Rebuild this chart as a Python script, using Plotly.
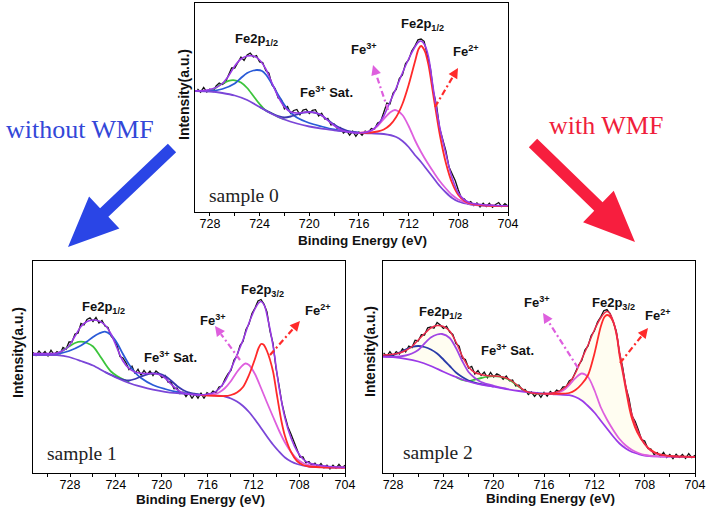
import plotly.graph_objects as go

W, H = 709, 515

# ---------------- values (intensity, a.u.) ----------------
tick_vals = [728, 724, 720, 716, 712, 708, 704]

# ----- sample 0 -----
s0_bg_e = [729.2, 728, 727, 726, 725, 724, 723, 722, 721, 720, 719, 718, 717, 716, 715, 714, 713, 712.5, 712, 711.5, 711, 710.5, 710, 709.5, 709, 708.5, 708, 707, 706, 705, 704]
s0_bg_y = [121, 120.5, 119, 116.5, 112, 105, 98, 92.5, 88.5, 85.5, 83.3, 81.7, 80.3, 79.2, 78.6, 78, 75, 71, 65, 57, 50, 42, 34, 26, 19.5, 14, 10.5, 7.5, 6.5, 6.2, 6]
s0_blue_e = [729.2, 728, 727, 726, 725.5, 725, 724.5, 724.2, 723.8, 723.5, 723, 722.5, 722, 721.5, 721, 720, 719, 718, 717, 716]
s0_blue_y = [121, 121, 123, 128.5, 134, 139, 141.5, 142, 141, 137.5, 128, 117, 107, 99.5, 94.5, 89, 85.5, 82.5, 80.6, 79.3]
s0_green_e = [729.2, 728, 727.5, 727, 726.5, 726, 725.5, 725, 724.5, 724, 723.5, 723, 722.5, 722]
s0_green_y = [121, 121.5, 124.5, 128.5, 131.2, 131.7, 129.5, 124, 116, 108, 101.5, 98.5, 95, 92.6]
s0_sat_e = [724, 723, 722.5, 722, 721.5, 721, 720.5, 720, 719.5, 719, 718.5, 718, 717.5, 717, 716.5, 716]
s0_sat_y = [105, 98.5, 96, 94.5, 95.5, 97.5, 99.3, 100, 99.2, 96.5, 92, 87.5, 84, 81.5, 80, 79.2]
s0_fe3_e = [716, 715.5, 715, 714.5, 714, 713.5, 713.1, 712.5, 712, 711.5, 711, 710.5, 710, 709.5, 709, 708.5, 708, 707, 706, 705, 704]
s0_fe3_y = [79.2, 79.8, 81.5, 86, 93, 99.5, 102, 97, 86, 72, 60, 49.5, 40, 31, 23.5, 17, 12.5, 8, 6.6, 6.2, 6]
s0_fe2_e = [716, 715, 714.5, 714, 713.5, 713, 712.5, 712, 711.5, 711.2, 711, 710.7, 710.4, 710, 709.5, 709, 708.5, 708, 707.5, 707, 706, 705, 704]
s0_fe2_y = [79.2, 79.5, 80.5, 82.5, 87, 95, 108, 127, 150, 163, 166, 161, 147, 116, 78, 49, 29, 17, 11, 8.3, 6.6, 6.2, 6]
s0_env_e = [729.2, 728.5, 728, 727.5, 727, 726.5, 726, 725.5, 725, 724.5, 724, 723.5, 723, 722.5, 722, 721.5, 721, 720.5, 720, 719.5, 719, 718.5, 718, 717.5, 717, 716.5, 716, 715.5, 715, 714.5, 714, 713.5, 713, 712.5, 712, 711.5, 711.2, 711, 710.7, 710.4, 710, 709.5, 709, 708.5, 708, 707.5, 707, 706, 705, 704]
s0_env_y = [121, 121.5, 122.5, 124.5, 128.5, 136, 146, 153, 156, 156, 152, 143, 129, 115, 105, 100, 99, 99.5, 100, 99.3, 96.7, 91.5, 86.5, 82.5, 80.3, 79.3, 79, 79.5, 81.5, 87, 96, 110, 124, 139, 153, 165, 170, 171, 167, 155, 122, 85, 58, 34, 19, 12, 9, 7.2, 6.5, 6.3]
s0_data = [123.1, 119.8, 124.5, 120, 123, 120.5, 126, 129, 127.5, 129.7,
           137, 144, 144, 149.5, 155, 151.5, 157, 159, 155, 156.5,
           150, 149.5, 141.5, 139, 127, 123.5, 114, 112.5, 103, 105.5,
           98.5, 101.5, 102.5, 97.2, 102, 102.8, 98.5, 101.6, 102.3, 96,
           98.7, 93, 93.5, 87, 88, 83.5, 84.5, 78.9, 81.3, 76.8,
           80.8, 75.6, 80, 76.7, 81, 79.5, 83.5, 82.7, 89, 90.5,
           99, 109, 108, 119, 122.5, 133.5, 137, 148.5, 152, 161,
           166, 172.2, 173, 170.7, 157, 144, 120, 106.5, 83.5, 73.5,
           61, 45, 38, 31.5, 22, 14, 13, 8.5, 10.5, 6.5,
           9.1, 5.1, 8.7, 5.5, 8.8, 4.7, 7.5, 9.5, 5.4, 8.3,
           5.8]
s0_data_e = [729 - 0.25 * i for i in range(len(s0_data))]

# ----- sample 1 -----
s1_bg_e = [731.23, 730.18, 729.13, 728.09, 727.04, 725.99, 724.95, 723.90, 722.85, 721.80, 720.76, 719.71, 718.66, 717.62, 716.57, 715.52, 714.47, 713.95, 713.43, 712.90, 712.38, 711.86, 711.33, 710.81, 710.29, 709.76, 709.24, 708.71, 708.19, 707.14, 706.10, 705.05, 704.0]
s1_bg_y = [118, 118, 117.8, 116, 112, 107.5, 101, 95, 90, 86.3, 83.3, 81.2, 79.8, 78.8, 78, 77.6, 76.5, 74.5, 71.5, 67, 61, 53.5, 45, 36.5, 28.5, 21.5, 15.5, 11.5, 9, 6.5, 5.8, 5.5, 5.3]
s1_blue_e = [731.23, 729.13, 728.09, 727.04, 726.52, 725.99, 725.47, 724.95, 724.42, 723.90, 723.38, 722.85, 722.33, 721.80, 720.76, 719.71, 718.66, 717.62, 716.57]
s1_blue_y = [118, 119, 122, 127.5, 131.5, 136, 139.5, 141.3, 138, 130, 119, 108.5, 100.5, 95, 88, 84, 81, 79.3, 78.2]
s1_green_e = [731.23, 729.13, 728.61, 728.09, 727.56, 727.04, 726.52, 725.99, 725.47, 724.95, 724.42, 723.90, 723.38, 722.85]
s1_green_y = [118, 119, 122.5, 126.5, 130, 131.3, 130, 126.5, 118.5, 109.5, 101.5, 97, 93.7, 91]
s1_sat_e = [724.95, 723.90, 723.38, 722.85, 722.33, 721.80, 721.28, 720.76, 720.23, 719.71, 719.19, 718.66, 718.14, 717.62, 717.09, 716.57]
s1_sat_y = [101, 95.5, 93.5, 92.5, 94, 96.5, 98.6, 99.6, 99.3, 97, 92.5, 87, 83, 80.3, 79, 78.2]
s1_fe3_e = [716.57, 715.52, 715.00, 714.47, 713.95, 713.43, 712.90, 712.69, 712.38, 711.86, 711.33, 710.81, 710.29, 709.76, 709.24, 708.71, 708.19, 707.67, 707.14, 706.10, 705.05, 704.0]
s1_fe3_y = [78, 78.5, 80.5, 85, 92, 101, 108, 109.5, 108, 99, 85, 70.5, 56.5, 42.5, 30.5, 21, 14, 10, 7.8, 6.2, 5.6, 5.3]
s1_fe2_e = [716.57, 714.47, 713.95, 713.43, 712.90, 712.38, 711.86, 711.54, 711.33, 711.12, 710.81, 710.29, 709.97, 709.55, 709.24, 708.71, 708.19, 707.67, 707.14, 706.10, 705.05, 704.0]
s1_fe2_y = [78, 77, 78, 80.5, 86, 98, 114, 125, 129, 128.5, 122, 102, 80, 52, 37, 21, 12, 8, 6.5, 5.7, 5.4, 5.3]
s1_env_e = [731.23, 730.18, 729.13, 728.61, 728.09, 727.56, 727.04, 726.52, 725.99, 725.47, 724.95, 724.42, 723.90, 723.38, 722.85, 722.33, 721.80, 721.28, 720.76, 720.23, 719.71, 719.19, 718.66, 718.14, 717.62, 717.09, 716.57, 716.04, 715.52, 715.00, 714.47, 713.95, 713.43, 712.90, 712.38, 711.86, 711.54, 711.33, 711.02, 710.81, 710.29, 709.76, 709.24, 708.71, 708.19, 707.67, 707.14, 706.10, 705.05, 704.0]
s1_env_y = [119.5, 119.5, 120, 122.5, 127, 137, 146.5, 151.5, 153, 152, 148, 139, 125, 112, 104.5, 101, 99.7, 99.5, 99.5, 98.5, 95, 89, 83.5, 80, 78.8, 78.3, 78.2, 78.8, 80, 84, 92, 104, 118, 133, 150, 164, 170, 171.5, 167, 158, 128, 86, 55, 35, 22, 14, 10, 7.5, 6.3, 5.8]
s1_data = [120.5, 117.5, 122, 118.5, 121.5, 117.1, 122.8, 118.4, 121.5, 119.2,
           125.5, 123.8, 131, 131, 139, 139.8, 149.5, 148, 153.5, 155.2,
           151.5, 155.5, 150, 152.5, 147, 145.5, 137, 133.5, 128, 116.5,
           115, 110.2, 103.5, 106.7, 99.5, 103.8, 97.7, 102.6, 98.5, 102,
           97.5, 102, 99.5, 95.3, 97.5, 91, 91, 84.2, 85, 79.3,
           81, 76.4, 80.3, 74.5, 79.3, 74.8, 80.2, 74.5, 80.3, 78.4,
           82, 80.5, 86, 87, 94, 99, 102.5, 113, 117, 127.5,
           131.5, 143.5, 149, 159.5, 165, 172, 173.5, 169, 161, 142,
           130, 105, 88, 69.5, 57, 46, 39, 31.5, 24, 16,
           16, 10, 11.5, 7.4, 9.8, 6.1, 9.5, 5.2, 7.9, 4.1,
           7.8, 4.7, 8.6, 4.9, 7.8]
s1_data_e = [731.23 - 0.2618 * i for i in range(len(s1_data))]

# ----- sample 2 -----
s2_bg_e = [728.8, 728, 727, 726, 725, 724, 723, 722, 721, 720, 719, 718, 717, 716, 715, 714, 713.5, 713, 712.5, 712, 711.5, 711, 710.5, 710, 709.5, 709, 708.5, 708, 707, 706, 705, 704]
s2_bg_y = [116.3, 115.8, 114.2, 111.5, 107, 101.3, 96, 91.5, 88.3, 86.3, 84, 82, 80.5, 79.3, 78.6, 77.8, 76, 72.5, 67, 60.5, 52.5, 44.5, 36.5, 29.5, 24.5, 21, 19, 17.5, 16.6, 16.3, 16.2, 16.2]
s2_navy_e = [728.8, 728, 727.5, 727, 726.5, 726, 725.5, 725, 724.5, 724, 723.5, 723, 722.5, 722, 721.5, 721, 720]
s2_navy_y = [117, 118, 120.5, 123.5, 126, 127, 126, 123.5, 119.5, 113.5, 107, 100.5, 96, 92.5, 90.3, 88.8, 86.5]
s2_violet_e = [728.8, 728, 727, 726.5, 726, 725.5, 725, 724.5, 724.1, 723.5, 723, 722.5, 722, 721.5, 721, 720, 719]
s2_violet_y = [116.3, 116, 117.5, 119.5, 123, 129.5, 135.5, 138.5, 139, 135, 125, 112, 101, 95, 91, 87.2, 84.3]
s2_green_e = [723, 722.5, 722, 721.5, 721, 720.5, 720, 719.5, 719, 718.5, 718, 717.5, 717, 716.5, 716]
s2_green_y = [96, 93, 92, 93.5, 95, 96.3, 96.8, 96.3, 94.5, 91, 86.3, 82, 80, 79.4, 79.3]
s2_fe3_e = [716, 715, 714.5, 714, 713.5, 713, 712.5, 712, 711.5, 711, 710.5, 710, 709.5, 709, 708.5, 708, 707, 706]
s2_fe3_y = [79.5, 80, 82.5, 88, 95, 99.5, 96, 83, 66, 53.5, 43, 34, 27.5, 23, 20, 18, 16.7, 16.3]
s2_fe2_e = [716, 715, 714, 713.5, 713, 712.5, 712, 711.5, 711.2, 711, 710.8, 710.5, 710.2, 710, 709.7, 709.5, 709.2, 709, 708.6, 708, 707.5, 707, 706, 705, 704]
s2_fe2_y = [79.3, 79.2, 80, 83, 89, 98, 119, 146, 156, 158, 157, 151, 136, 118, 98, 84, 64, 54, 41, 29, 23, 19.5, 17, 16.4, 16.2]
s2_env_e = [728.8, 728.3, 728, 727.5, 727, 726.5, 726, 725.5, 725, 724.5, 724, 723.5, 723, 722.5, 722, 721.5, 721, 720.5, 720, 719.5, 719, 718.5, 718, 717.5, 717, 716.5, 716, 715.5, 715, 714.5, 714, 713.5, 713, 712.5, 712, 711.5, 711.2, 711, 710.8, 710.5, 710.2, 710, 709.5, 709, 708.5, 708, 707.5, 707, 706, 705, 704]
s2_env_y = [118, 118.2, 118.8, 120, 122.5, 126.5, 133, 139.5, 145, 147.5, 146.5, 142, 131, 117, 106, 100.5, 98.5, 97.3, 97, 96.5, 95, 91.5, 86.5, 82, 80, 79.3, 79.2, 79.6, 81, 84, 90, 100, 114, 128, 143, 155, 160, 161.5, 160, 152, 137, 121, 87, 58, 41, 29, 22, 19, 17, 16.5, 16.3]
s2_data = [120.1, 116.6, 121.3, 116.8, 121.4, 119, 124.2, 121, 127, 125.5,
           132.8, 132, 138.2, 138, 145.2, 146, 144.7, 150.5, 148, 144.5,
           146.7, 141, 138.5, 129.5, 127, 115, 113.5, 105, 106.7, 99,
           102.5, 97.5, 100.9, 95.3, 100.6, 96, 99.2, 97.5, 93.7, 97,
           92.2, 93, 87, 88, 83.2, 83.5, 78.5, 81, 76.6, 80.3,
           75.7, 80.7, 76.9, 81.6, 78.8, 83, 81.5, 86, 86, 92,
           94, 102, 108, 112.5, 123, 127, 137.5, 142, 151, 156,
           162.2, 163.5, 159.5, 151, 141.5, 119.5, 106, 86, 74.5, 57,
           51.5, 43, 33.5, 32, 24.5, 24, 18.5, 20.5, 16.5, 20.5,
           15.5, 18.5, 14.4, 18.8, 15.6, 18.5, 14.5, 19.4, 15.3, 17.8]
s2_data_e = [728.75 - 0.25 * i for i in range(len(s2_data))]

# ---------------- styles ----------------
C_DATA = '#111111'
C_ENV = '#9a3ae6'
C_BG = '#7b46d8'
C_BLUE = '#2a5bd7'
C_GREEN = '#3cc43c'
C_SAT = '#3a37b0'
C_FE3 = '#de5fde'
C_FE2 = '#ff2a2a'
C_ENV2 = '#ec2a4c'
C_BG2 = '#9b3ae8'
C_NAVY2 = '#2a3ba8'
C_VIOLET2 = '#a145e4'

SANS = 'Liberation Sans, Arial, sans-serif'
SERIF = 'Liberation Serif, Times New Roman, serif'

fig = go.Figure()


def curve(e, y, color, width, xa, ya, shape='spline', **kw):
    line = dict(color=color, width=width, shape=shape)
    if shape == 'spline':
        line['smoothing'] = 0.8
    fig.add_trace(go.Scatter(x=e, y=y, mode='lines', line=line, xaxis=xa, yaxis=ya,
                             hoverinfo='skip', showlegend=False, **kw))


# sample 0 (top)
curve(s0_data_e, s0_data, C_DATA, 1.3, 'x', 'y', shape='linear')
curve(s0_green_e, s0_green_y, C_GREEN, 1.8, 'x', 'y')
curve(s0_blue_e, s0_blue_y, C_BLUE, 1.8, 'x', 'y')
curve(s0_sat_e, s0_sat_y, C_SAT, 1.8, 'x', 'y')
curve(s0_bg_e, s0_bg_y, C_BG, 1.8, 'x', 'y')
curve(s0_fe3_e, s0_fe3_y, C_FE3, 1.8, 'x', 'y')
curve(s0_fe2_e, s0_fe2_y, C_FE2, 1.8, 'x', 'y')
curve(s0_env_e, s0_env_y, C_ENV, 1.6, 'x', 'y')

# sample 1 (bottom left)
curve(s1_data_e, s1_data, C_DATA, 1.3, 'x2', 'y2', shape='linear')
curve(s1_green_e, s1_green_y, C_GREEN, 1.8, 'x2', 'y2')
curve(s1_blue_e, s1_blue_y, C_BLUE, 1.8, 'x2', 'y2')
curve(s1_sat_e, s1_sat_y, C_SAT, 1.8, 'x2', 'y2')
curve(s1_bg_e, s1_bg_y, C_BG, 1.8, 'x2', 'y2')
curve(s1_fe3_e, s1_fe3_y, C_FE3, 1.8, 'x2', 'y2')
curve(s1_fe2_e, s1_fe2_y, C_FE2, 1.8, 'x2', 'y2')
curve(s1_env_e, s1_env_y, C_ENV, 1.6, 'x2', 'y2')

# sample 2 (bottom right)
curve(s2_bg_e, s2_bg_y, 'rgba(0,0,0,0)', 0, 'x3', 'y3')
curve(s2_env_e, s2_env_y, 'rgba(0,0,0,0)', 0, 'x3', 'y3', fill='tonexty',
      fillcolor='rgba(255,249,220,0.4)')
curve(s2_data_e, s2_data, C_DATA, 1.3, 'x3', 'y3', shape='linear')
curve(s2_green_e, s2_green_y, C_GREEN, 1.8, 'x3', 'y3')
curve(s2_navy_e, s2_navy_y, C_NAVY2, 1.8, 'x3', 'y3')
curve(s2_violet_e, s2_violet_y, C_VIOLET2, 1.8, 'x3', 'y3')
curve(s2_bg_e, s2_bg_y, C_BG2, 1.8, 'x3', 'y3')
curve(s2_fe3_e, s2_fe3_y, C_FE3, 1.8, 'x3', 'y3')
curve(s2_fe2_e, s2_fe2_y, C_FE2, 1.8, 'x3', 'y3')
curve(s2_env_e, s2_env_y, C_ENV2, 1.5, 'x3', 'y3')


# ---------------- layout helpers ----------------
def P(px, py):
    return px / W, 1 - py / H


def xaxis(x0, x1, rng, anchor):
    return dict(domain=[x0 / W, x1 / W], range=rng, anchor=anchor, tickvals=tick_vals,
                ticks='outside', ticklen=3, tickwidth=1, tickcolor='black',
                ticklabelstandoff=-3,
                showline=True, linecolor='black', linewidth=1.3, mirror=True,
                showgrid=False, zeroline=False, automargin=False,
                tickfont=dict(family=SANS, size=12.5, color='black'),
                minor=dict(tick0=704, dtick=2, ticks='outside', ticklen=3,
                           tickcolor='black', showgrid=False))


def yaxis(y_top, y_bot, anchor):
    return dict(domain=[1 - y_bot / H, 1 - y_top / H], range=[0, y_bot - y_top],
                anchor=anchor, showticklabels=False, ticks='', showline=True,
                linecolor='black', linewidth=1.3, mirror=True, showgrid=False,
                zeroline=False, automargin=False)


annotations = []


def text(s, px, py, size, family=SANS, color='#111111', angle=0):
    x, y = P(px, py)
    annotations.append(dict(text=s, x=x, y=y, xref='paper', yref='paper', showarrow=False,
                            xanchor='center', yanchor='middle', textangle=angle,
                            font=dict(family=family, size=size, color=color)))


shapes = []


def poly(pts, color):
    s = ''
    for i, (px, py) in enumerate(pts):
        x, y = P(px, py)
        s += ('M' if i == 0 else 'L') + f'{x:.5f},{y:.5f} '
    shapes.append(dict(type='path', path=s + 'Z', xref='paper', yref='paper',
                       fillcolor=color, line=dict(width=0), layer='above'))


def frame(s, t, length):
    dx, dy = t[0] - s[0], t[1] - s[1]
    d = (dx * dx + dy * dy) ** 0.5
    ux, uy = dx / d, dy / d
    nx, ny = -uy, ux
    bx, by = t[0] - ux * length, t[1] - uy * length
    return ux, uy, nx, ny, bx, by


def big_arrow(s, t, shaft, head_len, head_w, color):
    ux, uy, nx, ny, bx, by = frame(s, t, head_len)
    w, hw = shaft / 2, head_w / 2
    pts = [(s[0] + nx * w, s[1] + ny * w), (bx + nx * w, by + ny * w),
           (bx + nx * hw, by + ny * hw), t, (bx - nx * hw, by - ny * hw),
           (bx - nx * w, by - ny * w), (s[0] - nx * w, s[1] - ny * w)]
    poly(pts, color)


def dash_arrow(s, t, color):
    ux, uy, nx, ny, bx, by = frame(s, t, 10)
    x0, y0 = P(*s)
    x1, y1 = P(bx, by)
    shapes.append(dict(type='line', x0=x0, y0=y0, x1=x1, y1=y1, xref='paper', yref='paper',
                       line=dict(color=color, width=2.2, dash='6px,3px,2px,3px'), layer='above'))
    poly([(bx + nx * 5, by + ny * 5), t, (bx - nx * 5, by - ny * 5)], color)


B = '<b>%s</b>'
# sample 0 labels
text(B % 'Fe2p<sub>1/2</sub>', 256, 40, 13)
text(B % 'Fe<sup>3+</sup> Sat.', 326, 92, 13)
text(B % 'Fe<sup>3+</sup>', 364, 49, 13)
text(B % 'Fe2p<sub>1/2</sub>', 422, 25, 13)
text(B % 'Fe<sup>2+</sup>', 466, 51, 13)
text('sample 0', 244, 195, 19.5, SERIF, '#222222')
text(B % 'Binding Energy (eV)', 362, 240, 13.5)
text(B % 'Intensity(a.u.)', 184, 95, 14, angle=-90)
dash_arrow((388, 110), (373, 65), C_FE3)
dash_arrow((435, 107), (458, 68), C_FE2)

# sample 1 labels
text(B % 'Fe2p<sub>1/2</sub>', 103, 307, 13)
text(B % 'Fe<sup>3+</sup> Sat.', 170, 357, 13)
text(B % 'Fe<sup>3+</sup>', 213, 320, 13)
text(B % 'Fe2p<sub>3/2</sub>', 262, 290, 13)
text(B % 'Fe<sup>2+</sup>', 318, 310, 13)
text('sample 1', 82, 453, 19.5, SERIF, '#222222')
text(B % 'Binding Energy (eV)', 200, 499, 13.5)
text(B % 'Intensity(a.u.)', 18, 353, 14, angle=-90)
dash_arrow((240, 360), (215, 326), C_FE3)
dash_arrow((270, 355), (300, 321), C_FE2)

# sample 2 labels
text(B % 'Fe2p<sub>1/2</sub>', 440, 312, 13)
text(B % 'Fe<sup>3+</sup> Sat.', 507, 350, 13)
text(B % 'Fe<sup>3+</sup>', 537, 302, 13)
text(B % 'Fe2p<sub>3/2</sub>', 613, 303, 13)
text(B % 'Fe<sup>2+</sup>', 658, 315, 13)
text('sample 2', 438, 452, 19.5, SERIF, '#222222')
text(B % 'Binding Energy (eV)', 550, 498, 13.5)
text(B % 'Intensity(a.u.)', 370, 352, 14, angle=-90)
dash_arrow((578, 368), (543, 313), C_FE3)
dash_arrow((620, 363), (648, 328), C_FE2)

# big arrows and captions
text('without WMF', 80, 129, 26, SERIF, '#3347d8')
text('with WMF', 606, 126, 26, SERIF, '#f01e3c')
big_arrow((172, 148), (68, 247), 12, 50, 44, '#2a45e6')
big_arrow((533, 143), (635, 242), 12, 51, 44, '#f71e3e')

fig.update_layout(
    width=W, height=H, margin=dict(l=0, r=0, t=0, b=0),
    paper_bgcolor='white', plot_bgcolor='white', showlegend=False,
    xaxis=xaxis(195, 508, [729.2, 704], 'y'),
    yaxis=yaxis(3, 212, 'x'),
    xaxis2=xaxis(33, 345, [731.23, 704], 'y2'),
    yaxis2=yaxis(261, 473, 'x2'),
    xaxis3=xaxis(383, 695, [728.8, 704], 'y3'),
    yaxis3=yaxis(261, 473, 'x3'),
    annotations=annotations, shapes=shapes,
)

fig.write_html('out.html', config={'displayModeBar': False},
               post_script="document.body.style.margin='0';document.body.style.overflow='hidden';")
